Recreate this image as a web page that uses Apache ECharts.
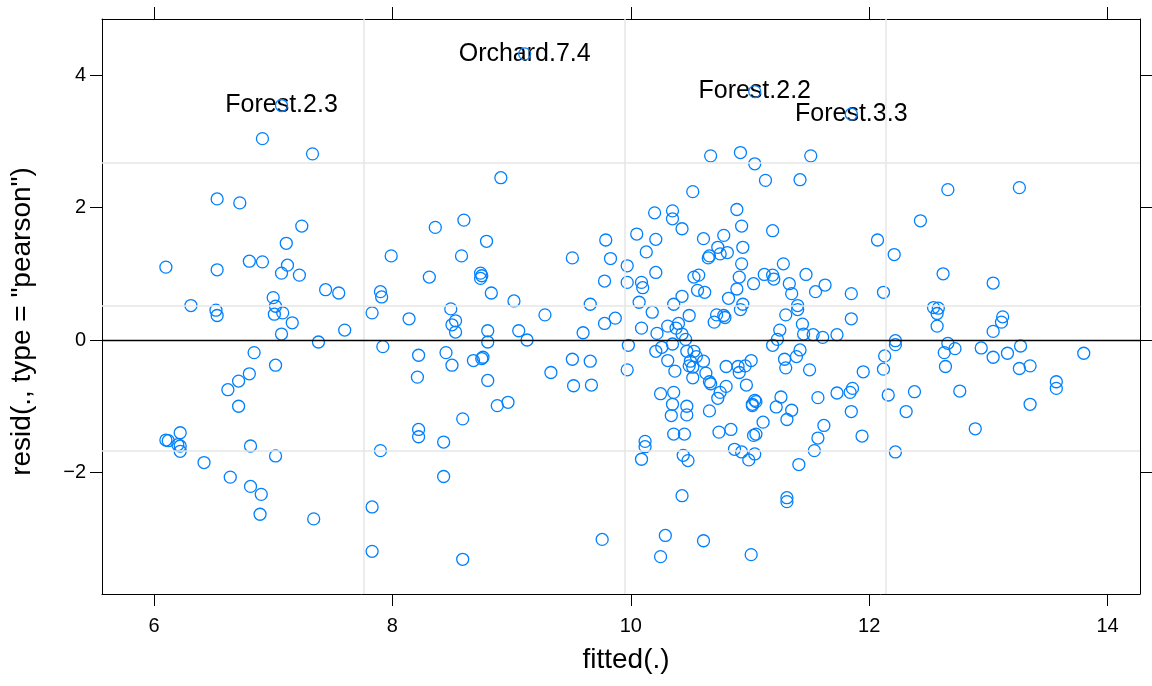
<!DOCTYPE html>
<html>
<head>
<meta charset="utf-8">
<title>resid vs fitted</title>
<script src="https://cdn.jsdelivr.net/npm/echarts@6/dist/echarts.min.js"></script>
<style>
  html, body { margin: 0; padding: 0; background: #fff; }
  #chart { width: 1152px; height: 686px; }
</style>
</head>
<body>
<div id="chart"></div>
<script>
// fitted values (x) and pearson residuals (y)
const fittedX = [
  6.10, 6.10, 6.12, 6.22, 6.20, 6.22, 6.22, 6.42, 6.64, 6.81, 6.81, 6.90, 6.89, 7.02, 7.34, 7.83,
  7.83, 7.90, 8.22, 8.22, 8.43, 8.43, 6.71, 7.24, 8.36, 7.11, 7.99, 6.53, 6.80, 6.91, 7.12, 7.07,
  7.22, 8.31, 7.44, 7.55, 7.90, 7.91, 7.00, 6.31, 6.52, 6.53, 7.02, 7.01, 7.08, 7.83, 8.14, 7.16,
  7.07, 7.60, 7.38, 7.92, 6.84, 8.22, 7.02, 6.80, 6.71, 6.62, 8.21, 6.91, 7.33, 6.53, 6.72,
  8.91, 8.60, 8.79, 8.58, 8.74, 8.75, 8.74, 8.83, 9.02, 8.49, 8.53, 8.50, 8.53, 8.80, 8.80, 9.06,
  9.13, 9.28, 9.51, 9.79, 9.83, 9.78, 9.66, 9.78, 9.87, 9.60, 8.45, 8.50, 8.68, 8.75, 8.76, 8.80,
  9.51, 9.66, 9.33, 9.52, 9.67, 8.88, 8.97, 8.59, 8.59, 9.76,
  9.97, 9.97, 10.05, 10.21, 10.13, 10.09, 10.10, 10.21, 10.07, 10.18, 10.09, 10.22, 9.98, 9.97,
  10.67, 10.92, 11.04, 11.13, 11.42, 11.51, 10.52, 10.20, 10.35, 10.35, 10.89, 10.43, 10.93, 11.19,
  10.61, 10.78, 10.73, 10.75, 10.81, 10.66, 10.65, 10.94, 10.93, 10.53, 10.57, 10.91, 10.89, 11.03,
  11.12, 11.19, 11.20, 11.28, 11.33, 11.35, 11.47, 11.55, 11.63, 11.40, 11.30, 11.85, 12.12, 12.07,
  12.21, 12.43, 10.56, 10.62, 10.43, 10.36, 10.82, 10.94, 10.92, 10.49, 10.72, 10.78, 10.79, 11.85,
  10.31, 10.38, 10.40, 10.43, 10.46, 10.70, 11.40, 11.25, 11.23, 11.19, 11.44, 11.45, 11.53, 11.61,
  11.73, 12.22, 12.22, 12.13, 12.12, 11.95, 12.16, 12.22, 10.21, 10.26, 10.35, 10.31, 10.37, 10.47,
  10.53, 10.55, 10.50, 10.61, 10.49, 10.52, 10.63, 10.52, 10.66, 10.67, 10.80, 10.75, 10.73, 10.80,
  10.90, 10.91, 10.96, 11.01, 10.97, 11.29, 11.39, 11.42, 11.30, 11.50, 10.25, 10.36, 10.35, 10.34,
  10.47, 10.47, 10.66, 11.02, 11.04, 11.05, 11.02, 11.22, 11.26, 11.35, 11.31, 11.11, 11.57, 11.73,
  11.84, 11.86, 11.85, 11.62, 11.57, 11.54, 11.94, 11.41, 10.74, 10.84, 11.03, 11.05, 10.87, 10.93,
  10.99, 11.04, 10.12, 10.12, 10.09, 10.36, 10.45, 10.44, 10.48, 10.43, 10.29, 10.25, 10.61, 11.01,
  11.31, 11.31,
  12.31, 12.38, 12.76, 12.66, 13.26, 12.62, 13.04, 12.54, 12.58, 12.57, 12.57, 13.12, 13.11, 13.04,
  12.66, 12.72, 12.63, 12.64, 12.94, 13.04, 13.16, 13.27, 13.26, 13.35, 13.80, 13.57, 13.57, 13.35,
  12.89
];
const residY = [
  1.10, -1.51, -1.52, -1.40, -1.58, -1.60, -1.68, -1.85, -2.07, -1.60, -2.21, -2.33, -2.63, -1.75, -2.70, -2.52,
  -3.19, -1.67, -1.35, -1.46, -1.54, -2.06, -1.00, 1.72, 1.70, 1.46, 1.27, 1.06, 1.19, 1.18, 1.13, 1.01,
  0.98, 0.95, 0.76, 0.71, 0.73, 0.65, 0.64, 0.52, 0.45, 0.37, 0.51, 0.39, 0.41, 0.41, 0.32, 0.26,
  0.09, 0.15, -0.03, -0.10, -0.19, -0.23, -0.38, -0.51, -0.62, -0.75, -0.56, 3.04, 2.81, 2.13, 2.07,
  2.45, 1.81, 1.49, 1.27, 1.01, 0.97, 0.93, 0.71, 0.59, 0.47, 0.29, 0.23, 0.12, 0.14, -0.03, 0.14,
  0.00, 0.38, 1.24, 1.51, 1.23, 0.89, 0.54, 0.25, 0.33, 0.11, -0.19, -0.38, -0.31, -0.28, -0.26, -0.61,
  -0.29, -0.32, -0.49, -0.69, -0.68, -0.99, -0.94, -1.19, -3.31, -3.01,
  1.12, 0.87, 1.60, 1.52, 1.33, 0.87, 0.79, 1.02, 0.57, 0.42, 0.18, 0.10, -0.08, -0.45,
  2.78, 2.83, 2.66, 2.41, 2.42, 2.78, 2.24, 1.92, 1.95, 1.83, 1.97, 1.68, 1.72, 1.65,
  1.53, 1.58, 1.40, 1.30, 1.32, 1.27, 1.24, 1.40, 1.15, 0.95, 0.98, 0.95, 0.77, 0.85,
  0.99, 0.98, 0.92, 1.15, 0.85, 0.70, 0.99, 0.73, 0.83, 0.52, 0.38, 0.70, 0.72, 1.51,
  1.29, 1.80, 0.75, 0.72, 0.66, 0.54, 0.63, 0.54, 0.46, 0.37, 0.38, 0.37, 0.34, 0.32,
  0.21, 0.18, 0.25, 0.09, 0.01, 0.27, 0.46, 0.15, 0.01, -0.08, 0.24, 0.09, 0.08, 0.04,
  0.08, -0.01, -0.07, -0.24, -0.44, -0.48, -0.83, -1.69, -0.17, -0.11, -0.06, -0.31, -0.47, -0.17,
  -0.17, -0.25, -0.32, -0.32, -0.39, -0.41, -0.50, -0.57, -0.63, -0.66, -0.70, -0.79, -0.88, -0.40,
  -0.40, -0.49, -0.39, -0.31, -0.68, -0.29, -0.25, -0.15, -0.42, -0.45, -0.81, -0.79, -0.97, -1.14,
  -1.00, -1.13, -1.07, -0.97, -0.91, -0.93, -0.99, -1.01, -0.86, -1.06, -1.20, -1.24, -0.87, -0.80,
  -0.79, -0.73, -1.08, -1.29, -1.48, -1.67, -1.45, -1.88, -1.39, -1.35, -1.44, -1.42, -1.65, -1.69,
  -1.81, -1.72, -1.53, -1.61, -1.80, -1.42, -1.42, -1.74, -1.82, -2.35, -2.95, -3.27, -3.03, -3.24,
  -2.38, -2.44,
  -1.08, -0.78, -0.77, 2.27, 2.30, 1.00, 0.86, 0.49, 0.48, 0.40, 0.21, 0.35, 0.27, 0.13,
  -0.05, -0.13, -0.19, -0.40, -0.12, -0.26, -0.20, -0.09, -0.43, -0.39, -0.20, -0.63, -0.73, -0.97,
  -1.34
];

// identified points
const idNames = ['Forest.2.3', 'Orchard.7.4', 'Forest.2.2', 'Forest.3.3'];
const idX = [7.07, 9.11, 11.04, 11.85];
const idY = [3.54, 4.32, 3.75, 3.41];

// axis ticks and light reference lines
const xTicks = [6, 8, 10, 12, 14];
const yTicks = [-2, 0, 2, 4];
const gridX = [7.756, 9.951, 12.143];
const gridY = [2.684, 0.505, -1.667];
const xRange = [5.564, 14.272];
const yRange = [-3.834, 4.846];

const FONT = '"Liberation Sans", Arial, Helvetica, sans-serif';
const BLUE = '#0080ff';

const chart = echarts.init(document.getElementById('chart'));

// scatter defaults to 0.8 opacity, lattice draws full colour
const pointStyle = {
  color: 'rgba(0,0,0,0)',
  borderColor: BLUE,
  borderWidth: 1.3,
  opacity: 1
};

const minusFmt = v => String(v).replace('-', '\u2212');

const tickAxisX = (pos, showLabel) => ({
  type: 'value',
  position: pos,
  min: xRange[0],
  max: xRange[1],
  splitLine: { show: false },
  axisLine: { show: true, onZero: false, lineStyle: { color: '#000', width: 1 } },
  axisTick: { show: true, length: 12, customValues: xTicks, lineStyle: { color: '#000', width: 1 } },
  axisLabel: {
    show: showLabel, customValues: xTicks, margin: 22,
    fontSize: 20, color: '#000', fontFamily: FONT
  }
});

const tickAxisY = (pos, showLabel) => ({
  type: 'value',
  position: pos,
  min: yRange[0],
  max: yRange[1],
  splitLine: { show: false },
  axisLine: { show: true, onZero: false, lineStyle: { color: '#000', width: 1 } },
  axisTick: { show: true, length: 12, customValues: yTicks, lineStyle: { color: '#000', width: 1 } },
  axisLabel: {
    show: showLabel, customValues: yTicks, margin: 16,
    fontSize: 20, color: '#000', fontFamily: FONT,
    formatter: minusFmt
  }
});

// padding nudges the centred titles right / down a little
const xBottom = Object.assign(tickAxisX('bottom', true), {
  name: 'fitted(.)', nameLocation: 'middle', nameGap: 52,
  nameTextStyle: { fontSize: 28, color: '#000', fontFamily: FONT, padding: [0, 0, 0, 10] }
});
const yLeft = Object.assign(tickAxisY('left', true), {
  name: 'resid(., type = "pearson")', nameLocation: 'middle', nameGap: 66,
  nameTextStyle: { fontSize: 28, color: '#000', fontFamily: FONT, padding: [0, 30, 0, 0] }
});

const option = {
  animation: false,
  backgroundColor: '#fff',
  grid: { left: 102, right: 12, top: 19, bottom: 92 },
  xAxis: [xBottom, tickAxisX('top', false)],
  yAxis: [yLeft, tickAxisY('right', false)],
  series: [
    {
      // light reference lines
      type: 'scatter',
      data: [],
      silent: true,
      z: 1,
      markLine: {
        silent: true,
        symbol: 'none',
        animation: false,
        label: { show: false },
        lineStyle: { color: '#e6e6e6', width: 1.5, type: 'solid', opacity: 1 },
        data: gridX.map(v => ({ xAxis: v })).concat(gridY.map(v => ({ yAxis: v })))
      }
    },
    {
      // zero line
      type: 'scatter',
      data: [],
      silent: true,
      z: 2,
      markLine: {
        silent: true,
        symbol: 'none',
        animation: false,
        label: { show: false },
        lineStyle: { color: '#000', width: 1.3, type: 'solid', opacity: 1 },
        data: [{ yAxis: 0 }]
      }
    },
    {
      // text of the identified points, under the circles
      type: 'scatter',
      data: idX.map((x, i) => [x, idY[i], idNames[i]]),
      symbolSize: 1,
      itemStyle: { color: 'rgba(0,0,0,0)', opacity: 1 },
      silent: true,
      z: 3,
      label: {
        show: true,
        position: 'inside',
        formatter: p => p.data[2],
        fontSize: 25,
        color: '#000',
        textBorderWidth: 0,
        fontFamily: FONT
      }
    },
    {
      type: 'scatter',
      data: fittedX.map((x, i) => [x, residY[i]]).concat(idX.map((x, i) => [x, idY[i]])),
      symbol: 'circle',
      symbolSize: 12,
      itemStyle: pointStyle,
      silent: true,
      z: 4
    }
  ]
};

chart.setOption(option);
</script>
</body>
</html>
